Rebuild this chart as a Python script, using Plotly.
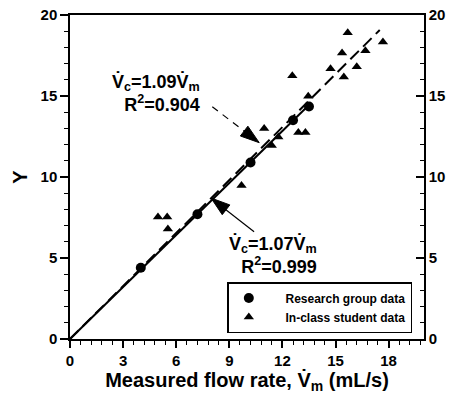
import plotly.graph_objects as go

# Research group measurements: measured flow rate (mL/s) vs Y
research_x = [4.0, 7.2, 10.2, 12.6, 13.5]
research_y = [4.4, 7.7, 10.9, 13.5, 14.35]

# In-class student measurements
student_x = [4.97, 5.49, 5.53, 9.69, 10.97, 11.4, 11.77, 12.9, 13.3,
             12.56, 13.46, 14.72, 15.37, 15.47, 15.69, 16.69, 16.2, 17.68]
student_y = [7.53, 7.53, 6.79, 9.48, 13.0, 11.95, 12.47, 12.75, 12.75,
             16.25, 14.98, 16.68, 17.65, 16.17, 18.9, 17.8, 16.8, 18.33]

# Linear fits through the origin
research_slope, research_r2 = 1.07, 0.999
student_slope, student_r2 = 1.09, 0.904
research_fit_end = 13.5
student_fit_end = 17.5

x_ticks = [0, 3, 6, 9, 12, 15, 18]
y_ticks = [0, 5, 10, 15, 20]

FONT = "Liberation Sans, Arial, sans-serif"
VDOT = "V\u0307"
PAD = "\u00a0" * 5

fig = go.Figure()

# fit lines (the dashed one lives on the mirrored right-hand axis, same scale)
fx_r = [0, research_fit_end]
fig.add_trace(go.Scatter(x=fx_r, y=[research_slope * v for v in fx_r], mode="lines",
                         line=dict(color="black", width=2), showlegend=False,
                         hoverinfo="skip"))
fx_s = [0, student_fit_end]
fig.add_trace(go.Scatter(x=fx_s, y=[student_slope * v for v in fx_s], mode="lines",
                         yaxis="y2",
                         line=dict(color="black", width=2, dash="12px,6px"),
                         showlegend=False, hoverinfo="skip"))

# data points
fig.add_trace(go.Scatter(x=research_x, y=research_y, mode="markers",
                         name=PAD + "Research group data",
                         marker=dict(symbol="circle", size=10, color="black")))
fig.add_trace(go.Scatter(x=student_x, y=student_y, mode="markers",
                         name=PAD + "In-class student data",
                         marker=dict(symbol="triangle-up", size=9, color="black")))

# pointer arrows for the fit labels
arrow_student = dict(x=[8.04, 10.69], y=[14.34, 12.12])
arrow_research = dict(x=[10.4, 7.97], y=[6.62, 8.70])
for arr, dash in [(arrow_student, "7px,6px"), (arrow_research, "solid")]:
    fig.add_trace(go.Scatter(
        x=arr["x"], y=arr["y"], mode="lines+markers",
        line=dict(color="black", width=1.2, dash=dash),
        marker=dict(symbol="arrow", size=[0, 20], color="black", opacity=1,
                    angleref="previous", line=dict(width=1, color="black")),
        showlegend=False, hoverinfo="skip"))

label_font = dict(family=FONT, size=18, color="black", weight="bold")
fig.add_annotation(
    x=7.46, y=15.2, xref="x", yref="y", xanchor="right", yanchor="middle",
    align="right", showarrow=False, font=label_font,
    text=f"{VDOT}<sub>c</sub>={student_slope:.2f}{VDOT}<sub>m</sub><br>"
         f"R<sup>2</sup>={student_r2:.3f}")
fig.add_annotation(
    x=14.07, y=5.2, xref="x", yref="y", xanchor="right", yanchor="middle",
    align="right", showarrow=False, font=label_font,
    text=f"{VDOT}<sub>c</sub>={research_slope:.2f}{VDOT}<sub>m</sub><br>"
         f"R<sup>2</sup>={research_r2:.3f}")

tick_font = dict(family=FONT, size=15, color="black", weight="bold")
title_font = dict(family=FONT, size=20, color="black", weight="bold")

fig.update_layout(
    width=450, height=394,
    margin=dict(l=70, r=26, t=15, b=55, autoexpand=False),
    paper_bgcolor="white", plot_bgcolor="white",
    font=dict(family=FONT, color="black"),
    xaxis=dict(range=[0, 20], tickvals=x_ticks, ticks="outside", ticklen=7,
               tickwidth=1.5, tickcolor="black", showline=True, linecolor="black",
               linewidth=1.5, mirror=True, showgrid=False, zeroline=False,
               tickfont=tick_font, automargin=False,
               minor=dict(dtick=0.6, tick0=0, ticks="outside", ticklen=4,
                          tickcolor="black", tickwidth=1, showgrid=False),
               title=dict(text=f"Measured flow rate, {VDOT}<sub>m</sub> (mL/s)",
                          font=title_font, standoff=4)),
    yaxis=dict(range=[0, 20], tickvals=y_ticks, ticks="outside", ticklen=8,
               tickwidth=1.5, tickcolor="black", showline=True, linecolor="black",
               linewidth=1.5, showgrid=False, zeroline=False, tickfont=tick_font,
               automargin=False,
               minor=dict(dtick=1, tick0=0, ticks="outside", ticklen=4,
                          tickcolor="black", tickwidth=1, showgrid=False),
               title=dict(text="Y", font=title_font, standoff=8)),
    yaxis2=dict(range=[0, 20], tickvals=y_ticks, overlaying="y", side="right",
                ticks="inside", ticklen=8, tickwidth=1.5, tickcolor="black",
                showline=True, linecolor="black", linewidth=1.5, showgrid=False,
                zeroline=False, tickfont=tick_font, automargin=False,
                minor=dict(dtick=1, tick0=0, ticks="inside", ticklen=4,
                           tickcolor="black", tickwidth=1, showgrid=False)),
    legend=dict(x=0.967, y=0.0185, xanchor="right", yanchor="bottom",
                bgcolor="white", bordercolor="black", borderwidth=1.5,
                font=dict(family=FONT, size=12, color="black", weight="bold")),
    showlegend=True,
)

fig.write_html("out.html")
